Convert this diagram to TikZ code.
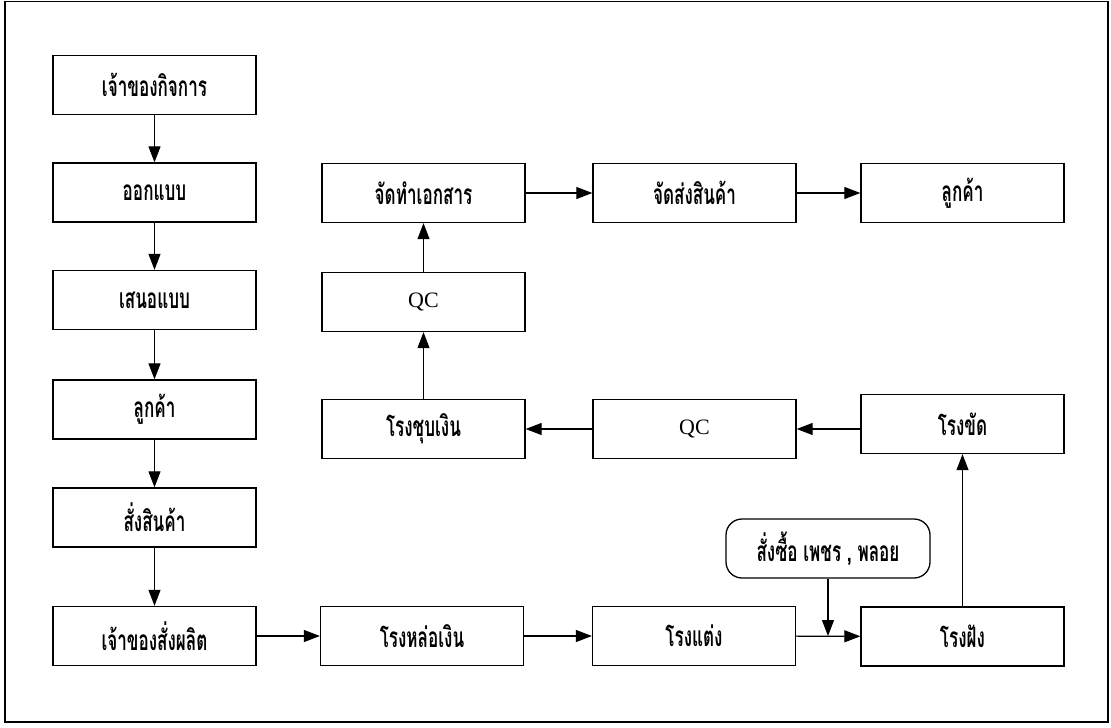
\documentclass[tikz,border=0pt]{standalone}
\usepackage{fontspec}
\setmainfont{Liberation Serif}
\newfontfamily\thaifont[Script=Thai,FakeStretch=0.61]{Loma}
\usetikzlibrary{arrows.meta}
\begin{document}
\begin{tikzpicture}[x=1pt,y=-1pt,
  box/.style={draw,line width=1.3pt,minimum width=203pt,minimum height=59pt,inner sep=0pt,
    font=\thaifont\bfseries\fontsize{28}{30}\selectfont},
  qcbox/.style={box,font=\rmfamily\mdseries\fontsize{22}{26}\selectfont},
  rbox/.style={box,minimum width=204pt,rounded corners=16pt},
  arr/.style={line width=1.1pt,-{Triangle[length=16pt,width=12pt]}}]
\useasboundingbox (0,0) rectangle (1111,728);
\draw[line width=1.8pt] (5,1.5) rectangle (1108,722);
% left column
\node[box] (n1) at (154.5,85) {เจ้าของกิจการ};
\node[box] (n2) at (154.5,192.5) {ออกแบบ};
\node[box] (n3) at (154.5,300) {เสนอแบบ};
\node[box] (n4) at (154.5,409.5) {ลูกค้า};
\node[box] (n5) at (154.5,517.5) {สั่งสินค้า};
\node[box] (n6) at (154.5,636) {เจ้าของสั่งผลิต};
% top row
\node[box] (t1) at (423.5,193) {จัดทำเอกสาร};
\node[box] (t2) at (694.5,193) {จัดส่งสินค้า};
\node[box] (t3) at (962.5,193) {ลูกค้า};
\node[qcbox] (q1) at (423.5,302) {QC};
% middle row
\node[box] (m1) at (423.5,429) {โรงชุบเงิน};
\node[qcbox] (m2) at (694.5,429) {QC};
\node[box] (m3) at (962.5,424) {โรงขัด};
% bottom row
\node[box] (b1) at (422,636) {โรงหล่อเงิน};
\node[box] (b2) at (694,636) {โรงแต่ง};
\node[box] (b3) at (962.5,636.5) {โรงฝัง};
\node[rbox] (p) at (828,548.5) {สั่งซื้อ เพชร , พลอย};
\coordinate (j) at (p.south |- b2.east);
% connectors
\draw[arr] (n1) -- (n2);
\draw[arr] (n2) -- (n3);
\draw[arr] (n3) -- (n4);
\draw[arr] (n4) -- (n5);
\draw[arr] (n5) -- (n6);
\draw[arr] (n6) -- (b1);
\draw[arr] (b1) -- (b2);
\draw[arr] (b2) -- (b3);
\draw[arr] (p) -- (j);
\draw[arr] (b3) -- (m3);
\draw[arr] (m3.west |- m2.east) -- (m2.east);
\draw[arr] (m2) -- (m1);
\draw[arr] (m1) -- (q1);
\draw[arr] (q1) -- (t1);
\draw[arr] (t1) -- (t2);
\draw[arr] (t2) -- (t3);
\end{tikzpicture}
\end{document}
